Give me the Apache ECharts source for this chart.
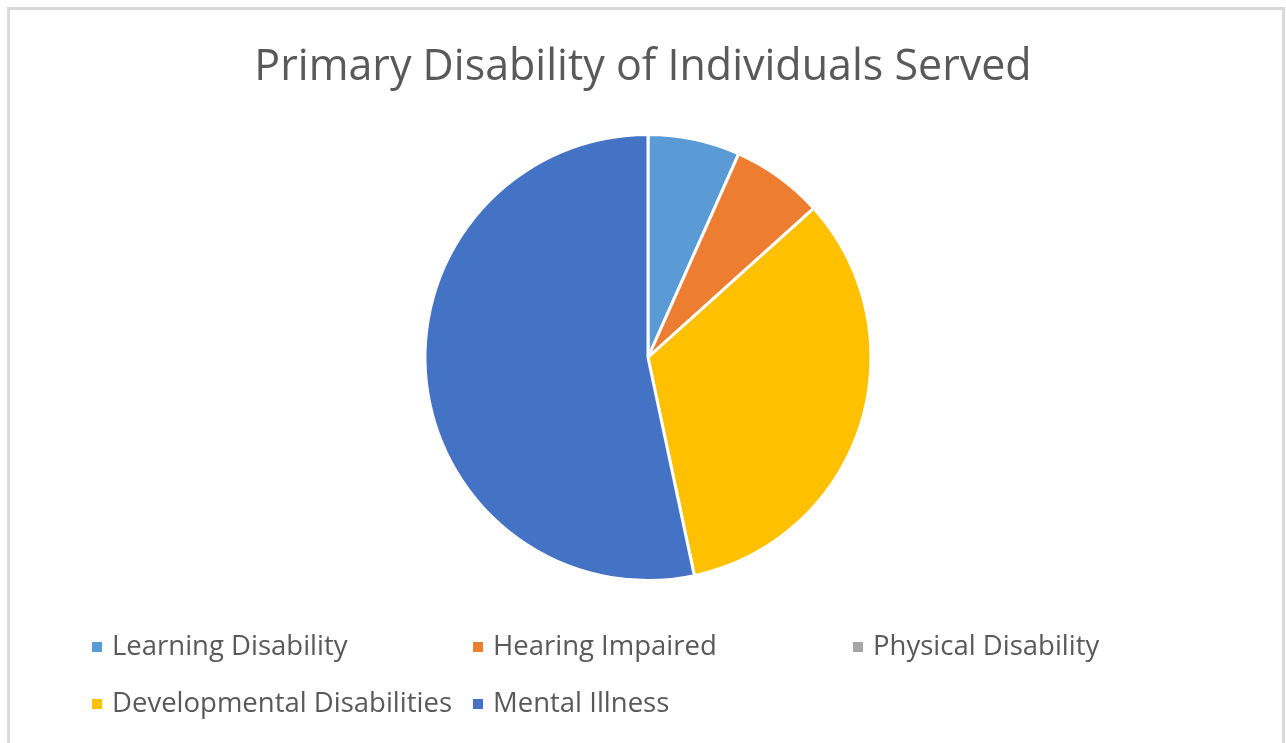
<!DOCTYPE html>
<html>
<head>
<meta charset="utf-8">
<script src="https://cdn.jsdelivr.net/npm/echarts@6/dist/echarts.min.js"></script>
<style>
html,body{margin:0;padding:0;background:#fff;}
#chart{width:1286px;height:743px;}
</style>
</head>
<body>
<div id="chart"></div>
<script>
const categories = ['Learning Disability','Hearing Impaired','Physical Disability','Developmental Disabilities','Mental Illness'];
const values = [1, 1, 0, 5, 8];
const colors = ['#5B9BD5','#ED7D31','#A5A5A5','#FFC000','#4472C4'];
const titleText = 'Primary Disability of Individuals Served';

const FONT = '"Open Sans", sans-serif';
const legendPos = [[90,633],[471,633],[851,633],[90,690],[471,690]];

const chart = echarts.init(document.getElementById('chart'), null, {renderer:'canvas'});
const legends = categories.map((c,i)=>({
  data:[c],
  left: legendPos[i][0],
  top: legendPos[i][1],
  padding:0,
  icon:'rect',
  itemWidth:12,
  itemHeight:12,
  selectedMode:false,
  textStyle:{color:'#595959', fontSize:27.5, fontFamily:FONT, padding:[0,0,0,4]}
}));
chart.setOption({
  backgroundColor:'#fff',
  animation:false,
  color: colors,
  title:{
    text:titleText,
    left:'center',
    top:41,
    textStyle:{color:'#595959', fontSize:43, fontWeight:'normal', fontFamily:FONT}
  },
  legend: legends,
  graphic:[{
    type:'rect',
    shape:{x:8.5,y:8.5,width:1275,height:800},
    style:{fill:null, stroke:'#d9d9d9', lineWidth:3},
    silent:true
  }],
  series:[{
    type:'pie',
    center:[648,357.5],
    radius:223,
    startAngle:90,
    clockwise:true,
    label:{show:false},
    labelLine:{show:false},
    itemStyle:{borderColor:'#fff', borderWidth:3},
    emphasis:{disabled:true},
    data: categories.map((c,i)=>({name:c, value:values[i], itemStyle:{color:colors[i]}}))
  }]
});
</script>
</body>
</html>
